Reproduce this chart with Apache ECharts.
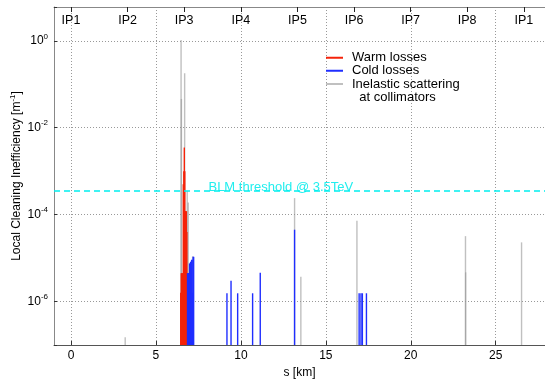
<!DOCTYPE html>
<html>
<head>
<meta charset="utf-8">
<script src="https://cdn.jsdelivr.net/npm/echarts@6/dist/echarts.min.js"></script>
<style>
  html, body { margin: 0; padding: 0; background: #fff; }
  #chart { width: 545px; height: 380px; }
</style>
</head>
<body>
<div id="chart"></div>
<script>
// interaction points along the ring (top axis)
const ipNames = ['IP1', 'IP2', 'IP3', 'IP4', 'IP5', 'IP6', 'IP7', 'IP8', 'IP1'];
const ipPos = [0, 3.33, 6.66, 10.0, 13.33, 16.66, 19.99, 23.32, 26.66];

// inelastic scattering at collimators (grey)
const inelasticS = [3.19, 6.48, 6.50, 6.69, 6.84, 6.90, 7.16, 13.16, 13.53, 16.83, 23.22, 23.23, 26.52];
const inelasticV = [1.5e-7, 1.05, 4.6e-2, 1.8e-1, 3.5e-4, 1.9e-4, 1.1e-5, 2.4e-4, 3.7e-6, 7.2e-5, 3.2e-5, 4.7e-6, 2.3e-5];

// warm losses (red)
const warmS = [6.46, 6.49, 6.52, 6.55, 6.58, 6.61, 6.64, 6.67, 6.70, 6.73, 6.76, 6.79, 6.82];
const warmV = [1.6e-6, 4.5e-6, 4.5e-6, 4.5e-6, 4.5e-6, 5e-4, 1.0e-3, 3.5e-3, 1.0e-3, 1.2e-4, 1.2e-4, 1.2e-4, 4.0e-5];

// cold losses (blue)
const coldS = [6.86, 6.89, 6.92, 6.95, 6.98, 7.01, 7.04, 7.07, 7.10, 7.13, 7.16, 7.19, 7.22,
               9.18, 9.42, 9.81, 10.69, 11.14, 13.16, 16.96, 17.07, 17.15, 17.39];
const coldV = [4.5e-6, 4.5e-6, 4.5e-6, 4.5e-6, 7.5e-6, 7.5e-6, 8.2e-6, 8.2e-6, 9.1e-6, 9.1e-6, 1.6e-6, 1.07e-5, 1.07e-5,
               1.55e-6, 3.0e-6, 1.55e-6, 1.55e-6, 4.6e-6, 4.5e-5, 1.55e-6, 1.55e-6, 1.55e-6, 1.55e-6];

const blmThreshold = 3.5e-4;
const blmLabelS = 12.35;
const yMin = 1e-7, yMax = 6;
const xMin = -1, xMax = 27.9;

const font = "'Liberation Sans', Arial, sans-serif";
const inelasticName = 'Inelastic scattering\n  at collimators';

function stems(name, xs, vs, color, z) {
  return {
    name: name,
    type: 'custom',
    z: z,
    itemStyle: { color: color },
    encode: { x: 0, y: 1 },
    data: xs.map((x, i) => [x, vs[i]]),
    renderItem: (params, api) => {
      const top = api.coord([api.value(0), api.value(1)]);
      const cs = params.coordSys;
      const w = 1.4;
      return {
        type: 'rect',
        shape: { x: top[0] - w / 2, y: top[1], width: w, height: cs.y + cs.height - top[1] },
        style: { fill: color }
      };
    }
  };
}

const legendBase = {
  orient: 'vertical', left: 326, padding: 0, itemGap: 0,
  icon: 'rect', itemWidth: 17, itemHeight: 2, selectedMode: false
};

const chart = echarts.init(document.getElementById('chart'));
chart.setOption({
  animation: false,
  textStyle: { fontFamily: font },
  grid: { left: 54, right: 0, top: 7, bottom: 35, outerBoundsMode: 'none' },
  legend: [
    Object.assign({}, legendBase, {
      top: 51.25,
      data: ['Warm losses', 'Cold losses'],
      textStyle: { fontSize: 13, lineHeight: 11.5, color: '#000', padding: [0, 0, 0, 4] }
    }),
    Object.assign({}, legendBase, {
      top: 64.5,
      data: [inelasticName],
      formatter: (n) => ' \n' + n,
      textStyle: { fontSize: 13, lineHeight: 13, color: '#000', padding: [0, 0, 0, 4] }
    })
  ],
  xAxis: [
    {
      type: 'value', position: 'bottom', min: xMin, max: xMax,
      name: 's [km]', nameLocation: 'middle', nameGap: 17,
      nameTextStyle: { fontSize: 12, color: '#000' },
      axisLine: { onZero: false, lineStyle: { color: '#555' } },
      axisTick: { inside: true, length: 4, lineStyle: { color: '#333' } },
      axisLabel: { fontSize: 12, color: '#000', margin: 5, showMinLabel: false, showMaxLabel: false },
      splitLine: { show: true, lineStyle: { color: '#999', type: [1, 2] } }
    },
    {
      type: 'value', position: 'top', min: xMin, max: xMax,
      axisLine: { onZero: false, lineStyle: { color: '#888' } },
      axisTick: { inside: true, length: 5, customValues: ipPos, lineStyle: { color: '#222' } },
      axisLabel: {
        inside: true, margin: 7, fontSize: 12.5, color: '#000', customValues: ipPos,
        formatter: (v) => ipNames[ipPos.indexOf(v)] || ''
      },
      splitLine: { show: false }
    }
  ],
  yAxis: {
    type: 'log', logBase: 100, min: yMin, max: yMax,
    name: 'Local Cleaning Inefficiency [m{sup|-1}]', nameLocation: 'middle', nameGap: 29,
    nameMoveOverlap: false,
    nameTextStyle: { fontSize: 12, color: '#000', rich: { sup: { fontSize: 8, padding: [0, 0, 8, 0] } } },
    axisLine: { show: true, onZero: false, lineStyle: { color: '#888' } },
    axisTick: { inside: true, length: 3, lineStyle: { color: '#333' } },
    axisLabel: {
      fontSize: 12, color: '#000', margin: 6,
      formatter: (v) => {
        const e = Math.log10(v);
        const r = Math.round(e);
        if (Math.abs(e - r) > 1e-6 || r % 2 !== 0) return '';
        return '10{sup|' + r + '}';
      },
      rich: { sup: { fontSize: 8, padding: [0, 0, 9, 0] } }
    },
    splitLine: { show: true, lineStyle: { color: '#999', type: [1, 2] } }
  },
  series: [
    stems(inelasticName, inelasticS, inelasticV, 'rgba(150,150,150,0.6)', 2),
    stems('Warm losses', warmS, warmV, '#f5230a', 3),
    stems('Cold losses', coldS, coldV, '#1f2eff', 4),
    {
      name: 'BLM threshold', type: 'line', z: 5,
      symbol: 'none', silent: true,
      lineStyle: { color: '#00eeee', type: [6, 4], width: 1.5 },
      data: [[xMin, blmThreshold], [xMax, blmThreshold]],
      markPoint: {
        symbol: 'circle', symbolSize: 0, silent: true,
        data: [{ coord: [blmLabelS, blmThreshold] }],
        label: {
          show: true, formatter: 'BLM threshold @ 3.5TeV', position: 'inside',
          offset: [0, -4], color: '#22eeee', fontSize: 13
        }
      }
    }
  ]
});
</script>
</body>
</html>
